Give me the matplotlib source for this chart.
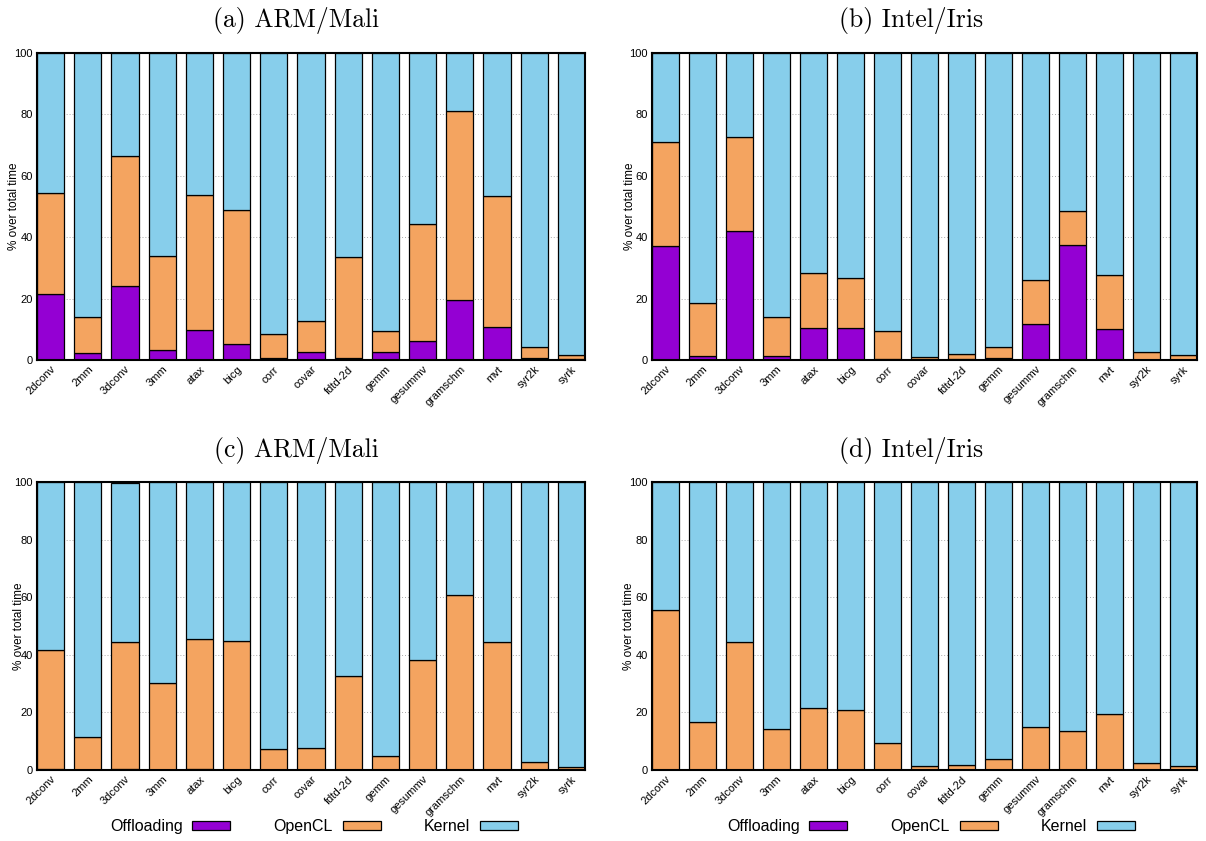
import matplotlib
matplotlib.use("Agg")
import matplotlib.pyplot as plt
import numpy as np

plt.rcParams["font.family"] = ["Liberation Sans", "DejaVu Sans"]

benchmarks = ["2dconv", "2mm", "3dconv", "3mm", "atax", "bicg", "corr", "covar",
              "fdtd-2d", "gemm", "gesummv", "gramschm", "mvt", "syr2k", "syrk"]

# (a) ARM/Mali
a_offloading = [21.4, 2.4, 24.2, 3.2, 9.8, 5.3, 0.5, 2.6, 0.6, 2.7, 6.3, 19.7, 10.9, 0.5, 0.2]
a_opencl = [33.1, 11.5, 42.3, 30.6, 44.0, 43.6, 8.1, 10.0, 33.0, 6.6, 37.9, 61.4, 42.5, 3.6, 1.5]
a_kernel = [45.5, 86.1, 33.5, 66.2, 46.2, 51.1, 91.4, 87.4, 66.4, 90.7, 55.8, 18.9, 46.6, 95.9, 98.3]

# (b) Intel/Iris
b_offloading = [37.0, 1.2, 42.0, 1.2, 10.4, 10.4, 0.2, 0.1, 0.4, 0.8, 11.8, 37.5, 10.2, 0.1, 0.1]
b_opencl = [34.1, 17.4, 30.8, 12.8, 18.1, 16.3, 9.4, 0.9, 1.6, 3.5, 14.2, 10.9, 17.5, 2.4, 1.4]
b_kernel = [28.9, 81.4, 27.2, 86.0, 71.5, 73.3, 90.4, 99.0, 98.0, 95.7, 74.0, 51.6, 72.3, 97.5, 98.5]

# (c) ARM/Mali
c_offloading = [0.2, 0.1, 0.2, 0.1, 0.2, 0.1, 0.1, 0.1, 0.1, 0.1, 0.1, 0.1, 0.1, 0.1, 0.1]
c_opencl = [41.6, 11.5, 44.1, 30.1, 45.4, 44.6, 7.3, 7.6, 32.4, 4.8, 38.1, 60.6, 44.4, 2.6, 0.9]
c_kernel = [58.2, 88.4, 55.2, 69.8, 54.4, 55.3, 92.6, 92.3, 67.5, 95.1, 61.8, 39.3, 55.5, 97.3, 99.0]

# (d) Intel/Iris
d_offloading = [0.0] * 15
d_opencl = [55.7, 16.6, 44.5, 14.4, 21.7, 21.0, 9.3, 1.4, 1.6, 3.8, 14.9, 13.4, 19.4, 2.4, 1.4]
d_kernel = [44.3, 83.4, 55.5, 85.6, 78.3, 79.0, 90.7, 98.6, 98.4, 96.2, 85.1, 86.6, 80.6, 97.6, 98.6]

titles = ["(a) ARM/Mali", "(b) Intel/Iris", "(c) ARM/Mali", "(d) Intel/Iris"]
series_names = ["Offloading", "OpenCL", "Kernel"]
colors = ["#9400D3", "#F4A460", "#87CEEB"]

W, H = 1206, 841
fig = plt.figure(figsize=(W / 100, H / 100), dpi=100)

# axes boxes in pixels: left, top, right, bottom
boxes = [(37, 53, 585, 360), (652, 53, 1197, 360),
         (37, 482, 585, 770), (652, 482, 1197, 770)]
title_pos = [(296, 27), (911, 27), (296, 457), (911, 457)]
ylabel_x = [-0.042, -0.040, -0.033, -0.042]

panels = [(a_offloading, a_opencl, a_kernel), (b_offloading, b_opencl, b_kernel),
          (c_offloading, c_opencl, c_kernel), (d_offloading, d_opencl, d_kernel)]

width = 0.73
x = np.arange(len(benchmarks))

for i, (data, box) in enumerate(zip(panels, boxes)):
    l, t, r, b = box
    ax = fig.add_axes([l / W, 1 - b / H, (r - l) / W, (b - t) / H])
    bottom = np.zeros(len(benchmarks))
    handles = []
    for vals, col, name in zip(data, colors, series_names):
        h = ax.bar(x, vals, width, bottom=bottom, color=col, edgecolor="black",
                   linewidth=0.9, label=name, zorder=2)
        bottom += np.array(vals)
        handles.append(h)
    ax.set_xlim(-width / 2, len(benchmarks) - 1 + width / 2)
    ax.set_ylim(0, 100)
    ax.set_yticks([0, 20, 40, 60, 80, 100])
    ax.set_xticks(x)
    ax.set_xticklabels(benchmarks, rotation=45, ha="right", rotation_mode="anchor",
                       fontsize=8)
    ax.tick_params(axis="both", length=0, labelsize=8)
    ax.tick_params(axis="x", pad=3)
    ax.tick_params(axis="y", pad=3)
    ax.yaxis.grid(True, linestyle=(0, (1, 2)), color="#aaaaaa", linewidth=0.7, zorder=0)
    ax.set_axisbelow(True)
    for s in ax.spines.values():
        s.set_linewidth(1.5)
    ax.set_ylabel("% over total time", fontsize=8.5, va="center")
    ax.yaxis.set_label_coords(ylabel_x[i], 0.5)
    tx, ty = title_pos[i]
    fig.text(tx / W, 1 - ty / H, titles[i], family="cmr10", fontsize=18.5,
             ha="center", va="baseline")
    if i >= 2:
        cx = 314 if i == 2 else 931
        fig.legend(handles, series_names, loc="lower center",
                   bbox_to_anchor=(cx / W, -0.001), ncol=3, frameon=False,
                   markerfirst=False, fontsize=11.5, handlelength=2.4,
                   handleheight=0.46, handletextpad=0.6, columnspacing=2.7,
                   borderpad=0.0)

fig.savefig("out.png", dpi=100)
